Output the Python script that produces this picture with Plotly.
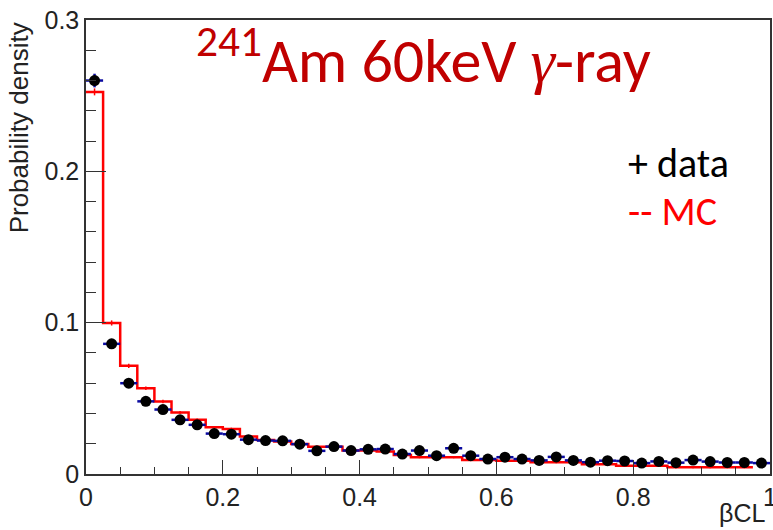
import numpy as np
import plotly.graph_objects as go

bin_width = 0.025
n_bins = 40
bin_edges = [round(i * bin_width, 4) for i in range(n_bins + 1)]
bin_centers = [round((i + 0.5) * bin_width, 4) for i in range(n_bins)]

data_values = [0.260, 0.086, 0.060, 0.048, 0.0426, 0.0358, 0.0325, 0.0267, 0.0263, 0.0227,
               0.0221, 0.0219, 0.0197, 0.0153, 0.0181, 0.0155, 0.0163, 0.0165, 0.0132, 0.0155,
               0.0121, 0.0170, 0.0121, 0.0099, 0.0111, 0.0099, 0.0090, 0.0113, 0.0090, 0.0078,
               0.0088, 0.0086, 0.0072, 0.0083, 0.0075, 0.0092, 0.0082, 0.0076, 0.0076, 0.0072]
data_errors = [0.0045] + [0.0015] * 39

mc_values = [0.2525, 0.0998, 0.0715, 0.0567, 0.0479, 0.0406, 0.0358, 0.0309, 0.0298, 0.0247,
             0.0225, 0.0214, 0.0199, 0.0180, 0.0180, 0.0155, 0.0155, 0.0148, 0.0126, 0.0110,
             0.0110, 0.0110, 0.0093, 0.0093, 0.0088, 0.0088, 0.0078, 0.0077, 0.0077, 0.0064,
             0.0064, 0.0055, 0.0055, 0.0055, 0.0044, 0.0044, 0.0044, 0.0044, 0.0044, None]
mc_errors = [0.0023, 0.0017, 0.0014, 0.0012, 0.0011, 0.0010, 0.0009, 0.0008, 0.0008, 0.0008] + [0.0006] * 30

x_ticks = [0, 0.2, 0.4, 0.6, 0.8, 1]
x_tick_labels = ["0", "0.2", "0.4", "0.6", "0.8", "1"]
y_ticks = [0, 0.1, 0.2, 0.3]
y_tick_labels = ["0", "0.1", "0.2", "0.3"]

# MC step line (only bins with values)
valid = [i for i, v in enumerate(mc_values) if v is not None]
step_x = [bin_edges[i] for i in valid] + [bin_edges[valid[-1] + 1]]
step_y = [mc_values[i] for i in valid] + [mc_values[valid[-1]]]

fig = go.Figure()

fig.add_trace(go.Scatter(
    x=step_x, y=step_y, mode="lines", line=dict(color="#ff0000", width=2.5, shape="hv"),
    showlegend=False, hoverinfo="skip"))

fig.add_trace(go.Scatter(
    x=[bin_centers[i] for i in valid], y=[mc_values[i] for i in valid], mode="markers",
    marker=dict(size=1, color="#ff0000", opacity=0),
    error_y=dict(type="data", array=[mc_errors[i] for i in valid], color="#ff0000",
                 thickness=1.5, width=0),
    showlegend=False, hoverinfo="skip"))

fig.add_trace(go.Scatter(
    x=bin_centers, y=data_values, mode="markers",
    marker=dict(size=11, color="black", symbol="circle"),
    error_x=dict(type="constant", value=bin_width / 2, color="#0a0aa0", thickness=2.5, width=0),
    error_y=dict(type="data", array=data_errors, color="#0a0aa0", thickness=2.5, width=0),
    showlegend=False))

axis_font = dict(family="Liberation Sans, Arial, Helvetica", size=25, color="#222222")
title_font = dict(family="Liberation Sans, Arial, Helvetica", size=26, color="#222222")
calibri = "Carlito, Calibri, Lato"

fig.update_layout(
    width=773, height=530,
    margin=dict(l=86, r=3, t=20, b=56),
    paper_bgcolor="white", plot_bgcolor="white",
    showlegend=False,
    xaxis=dict(range=[0, 1], tickvals=x_ticks, ticktext=x_tick_labels, automargin=False,
               ticklabeloverflow="allow",
               ticks="inside", ticklen=14, tickwidth=1.2, tickcolor="#333333",
               minor=dict(dtick=0.05, ticks="inside", ticklen=7, tickwidth=1.2, tickcolor="#333333", showgrid=False),
               showline=True, linecolor="#333333", linewidth=1.5, mirror=True,
               showgrid=False, zeroline=False, tickfont=axis_font),
    yaxis=dict(range=[0, 0.3], tickvals=y_ticks, ticktext=y_tick_labels, automargin=False,
               ticks="inside", ticklen=20, tickwidth=1.2, tickcolor="#333333",
               minor=dict(dtick=0.02, ticks="inside", ticklen=10, tickwidth=1.2, tickcolor="#333333", showgrid=False),
               showline=True, linecolor="#333333", linewidth=1.5, mirror=True,
               showgrid=False, zeroline=False, tickfont=axis_font),
    annotations=[
        dict(text="Probability density", textangle=-90, xref="paper", yref="paper",
             x=-0.123, y=1.0, xanchor="left", yanchor="top", showarrow=False,
             font=title_font),
        dict(text="βCL", xref="paper", yref="paper", x=0.995, y=-0.121, xanchor="right",
             yanchor="bottom", showarrow=False, font=axis_font),
        dict(text="<sup>241</sup>Am 60keV <span style=\"font-family:'Liberation Serif'\"><i>γ</i></span>-ray",
             xref="paper", yref="paper", x=0.158, y=1.016, xanchor="left", yanchor="top",
             showarrow=False, font=dict(family=calibri, size=62, color="#c00000")),
        dict(text="+ data", xref="paper", yref="paper", x=0.79, y=0.685, xanchor="left",
             yanchor="middle", showarrow=False, font=dict(family=calibri, size=40, color="black")),
        dict(text="-- MC", xref="paper", yref="paper", x=0.79, y=0.578, xanchor="left",
             yanchor="middle", showarrow=False, font=dict(family=calibri, size=40, color="#ff0000")),
    ],
)

fig.write_html("out.html", config={"displayModeBar": False},
               post_script="document.body.style.margin='0';")
